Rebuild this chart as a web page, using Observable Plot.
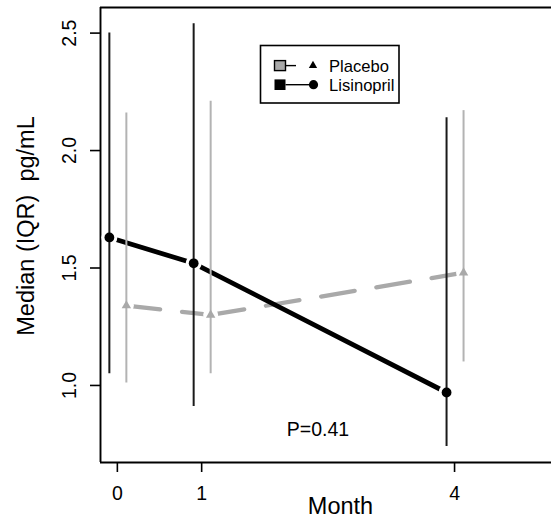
<!DOCTYPE html>
<html><head><meta charset="utf-8">
<script src="https://cdn.jsdelivr.net/npm/d3@7"></script>
<script src="https://cdn.jsdelivr.net/npm/@observablehq/plot@0.6"></script>
<style>
body{margin:0;background:#fff;}
#wrap{position:relative;width:551px;height:521px;overflow:hidden;font-family:"Liberation Sans",Arial,Helvetica,sans-serif;}
#legend{position:absolute;left:0;top:0;pointer-events:none;}
</style></head><body><div id="wrap"></div>
<script>
// ---- data ----
const months = [0, 1, 4];
const placeboMedian = [1.34, 1.30, 1.48];
const placeboQ1 = [1.01, 1.05, 1.10];
const placeboQ3 = [2.16, 2.21, 2.17];
const lisinoprilMedian = [1.63, 1.52, 0.97];
const lisinoprilQ1 = [1.05, 0.91, 0.74];
const lisinoprilQ3 = [2.50, 2.54, 2.14];
const xTicks = [0, 1, 4];
const yTicks = [1.0, 1.5, 2.0, 2.5];
const xLabel = "Month";
const yLabel = "Median (IQR)  pg/mL";
const groups = ["Placebo", "Lisinopril"];
const annotation = [{month: 2.38, value: 0.81, text: "P=0.41"}];

const FONT = '"Liberation Sans", Arial, Helvetica, sans-serif';
const xDomain = [-0.2, 5.15];
const yDomain = [0.672, 2.609];

const placebo = months.map((m, i) => ({month: m, median: placeboMedian[i], q1: placeboQ1[i], q3: placeboQ3[i]}));
const lisinopril = months.map((m, i) => ({month: m, median: lisinoprilMedian[i], q1: lisinoprilQ1[i], q3: lisinoprilQ3[i]}));
const segs = rows => rows.slice(1).map((d, i) => ({x1: rows[i].month, y1: rows[i].median, x2: d.month, y2: d.median}));

const PDX = 9, LDX = -8;
const GRAY = "#a9a9a9";

const chart = Plot.plot({
  width: 551, height: 521,
  marginLeft: 100, marginTop: 7, marginRight: 0, marginBottom: 59,
  x: {domain: xDomain},
  y: {domain: yDomain},
  style: {fontFamily: FONT, background: "white", color: "black"},
  marks: [
    Plot.axisX(xTicks, {tickSize: 10, tickPadding: 14, fontSize: 19.5, label: null, tickFormat: d => String(d), strokeWidth: 1.6}),
    Plot.axisY(yTicks, {tickSize: 10, tickFormat: () => "", label: null, strokeWidth: 1.6}),
    Plot.text(yTicks, {y: d => d, text: d => d.toFixed(1), frameAnchor: "left", dx: -30.4, rotate: -90, textAnchor: "middle", lineAnchor: "middle", fontSize: 19.5}),
    Plot.text([xLabel], {text: d => d, frameAnchor: "bottom", dx: 14.5, dy: 43.6, textAnchor: "middle", lineAnchor: "middle", fontSize: 23.5}),
    Plot.text([yLabel], {text: d => d, frameAnchor: "left", dx: -74, dy: -9, rotate: -90, textAnchor: "middle", lineAnchor: "middle", fontSize: 23.5}),
    // frame
    Plot.ruleY([yDomain[0], yDomain[1]], {stroke: "#000", strokeWidth: 1.9}),
    Plot.ruleX([xDomain[0]], {stroke: "#000", strokeWidth: 1.9}),
    // placebo dashed line (segment-wise)
    Plot.link(segs(placebo), {x1: "x1", y1: "y1", x2: "x2", y2: "y2", dx: PDX, stroke: GRAY, strokeWidth: 4.3, strokeDasharray: "34,22", strokeLinecap: "round"}),
    Plot.dot(placebo, {x: "month", y: "median", dx: PDX, r: 7.5, fill: "white", stroke: null}),
    // lisinopril solid line
    Plot.line(lisinopril, {x: "month", y: "median", dx: LDX, stroke: "#000", strokeWidth: 4.8}),
    Plot.dot(lisinopril, {x: "month", y: "median", dx: LDX, r: 8, fill: "white", stroke: null}),
    // IQR bars
    Plot.ruleX(placebo, {x: "month", y1: "q1", y2: "q3", dx: PDX, stroke: "#b3b3b3", strokeWidth: 2}),
    Plot.ruleX(lisinopril, {x: "month", y1: "q1", y2: "q3", dx: LDX, stroke: "#1a1a1a", strokeWidth: 2}),
    // points
    Plot.dot(placebo, {x: "month", y: "median", dx: PDX, symbol: "triangle", r: 3.5, fill: GRAY, stroke: null}),
    Plot.dot(lisinopril, {x: "month", y: "median", dx: LDX, r: 4.9, fill: "#000", stroke: null}),
    // annotation
    Plot.text(annotation, {x: "month", y: "value", text: "text", fontSize: 19.5, lineAnchor: "middle"})
  ]
});
const wrap = document.getElementById("wrap");
wrap.appendChild(chart);

// ---- legend overlay ----
const svg = d3.select(wrap).append("svg").attr("id", "legend").attr("width", 551).attr("height", 521);
svg.append("rect").attr("x", 260.5).attr("y", 45.5).attr("width", 138.5).attr("height", 57.5)
  .attr("fill", "white").attr("stroke", "#000").attr("stroke-width", 1.6);
const rowsY = [65.6, 84.7];
// Placebo row
svg.append("rect").attr("x", 274.5).attr("y", rowsY[0] - 5).attr("width", 11).attr("height", 10)
  .attr("fill", GRAY).attr("stroke", "#000").attr("stroke-width", 1.4);
svg.append("line").attr("x1", 285.5).attr("x2", 296).attr("y1", rowsY[0]).attr("y2", rowsY[0]).attr("stroke", "#000").attr("stroke-width", 1.4);
svg.append("path").attr("d", d3.symbol(d3.symbolTriangle, 30)()).attr("transform", `translate(313,${rowsY[0]})`).attr("fill", "#000");
// Lisinopril row
svg.append("rect").attr("x", 274.5).attr("y", rowsY[1] - 5.3).attr("width", 11).attr("height", 10.6).attr("fill", "#000");
svg.append("line").attr("x1", 285.5).attr("x2", 310).attr("y1", rowsY[1]).attr("y2", rowsY[1]).attr("stroke", "#000").attr("stroke-width", 1.4);
svg.append("circle").attr("cx", 313.5).attr("cy", rowsY[1]).attr("r", 4.6).attr("fill", "#000");
svg.selectAll("text.lg").data(groups).join("text").attr("class", "lg")
  .attr("x", 329).attr("y", (d, i) => rowsY[i] + 6.3)
  .attr("font-family", FONT).attr("font-size", 16.6).attr("fill", "#000").text(d => d);
</script>
</body></html>
